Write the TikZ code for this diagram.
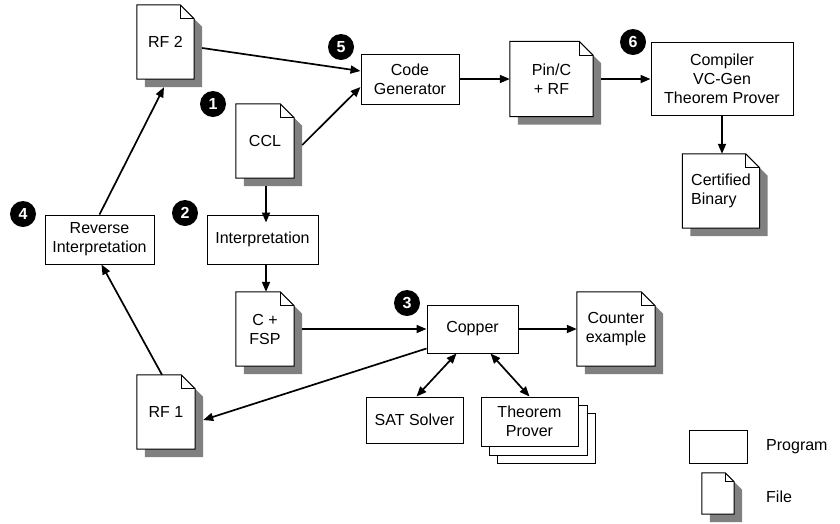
\documentclass[tikz,border=0pt]{standalone}
\usepackage{fontspec}
\setmainfont{Liberation Sans}
\usetikzlibrary{arrows.meta,backgrounds}
\definecolor{shadowgray}{HTML}{808080}
\newcommand\docshape[2][14]{%
  \begin{pgfonlayer}{background}
    \fill[shadowgray] ([shift={(8,8)}]#2.north west) -- ([shift={(8-#1,8)}]#2.north east)
      -- ([shift={(8,8+#1)}]#2.north east) -- ([shift={(8,8)}]#2.south east)
      -- ([shift={(8,8)}]#2.south west) -- cycle;
    \draw[boxline, fill=white] (#2.north west) -- ([shift={(-#1,0)}]#2.north east)
      -- ([shift={(0,#1)}]#2.north east) -- (#2.south east) -- (#2.south west) -- cycle;
    \draw[boxline] ([shift={(-#1,0)}]#2.north east) -- ([shift={(-#1,#1)}]#2.north east)
      -- ([shift={(0,#1)}]#2.north east);
  \end{pgfonlayer}}
\begin{document}
\begin{tikzpicture}[x=1pt,y=-1pt,
  font=\fontsize{16}{19}\selectfont,
  boxline/.style={line width=1pt, line join=miter},
  prog/.style={draw, boxline, fill=white, align=center, inner sep=0pt},
  doc/.style={align=center, inner sep=0pt},
  arr/.style={line width=1.7pt, -{Triangle[length=10pt,width=8pt]}},
  darr/.style={line width=1.7pt, {Triangle[length=10pt,width=8pt]}-{Triangle[length=10pt,width=8pt]}},
  badge/.style={circle, fill=black, text=white, inner sep=0pt, minimum size=26pt, font=\fontsize{16}{19}\selectfont\bfseries}]
\useasboundingbox (0,0) rectangle (840,523);

% files
\node[doc, minimum width=57pt, minimum height=74pt] (rf2) at (165.5,42) {RF 2};
\docshape{rf2}
\node[doc, minimum width=58pt, minimum height=74pt] (ccl) at (265,141) {CCL};
\docshape{ccl}
\node[doc, minimum width=83pt, minimum height=75pt] (pin) at (551.5,79) {Pin/C\\+ RF};
\docshape{pin}
\node[doc, minimum width=77pt, minimum height=74pt, align=left] (cert) at (721,191) {Certified\\Binary};
\docshape{cert}
\node[doc, minimum width=58pt, minimum height=74pt] (rf1) at (166,412) {RF 1};
\docshape{rf1}
\node[doc, minimum width=58pt, minimum height=74pt] (cfsp) at (265,329) {C +\\FSP};
\docshape{cfsp}
\node[doc, minimum width=78pt, minimum height=74pt] (counter) at (616,329) {Counter\\example};
\docshape{counter}

% programs
\node[prog, minimum width=111pt, minimum height=49pt] (interp) at (262.5,239.5) {Interpretation};
\node[prog, minimum width=98pt, minimum height=50pt] (codegen) at (410,79) {Code\\Generator};
\node[prog, minimum width=142pt, minimum height=73pt] (compiler) at (722,79) {Compiler\\VC-Gen\\Theorem Prover};
\node[prog, minimum width=109pt, minimum height=49pt] (revint) at (99.5,239.5) {Reverse\\Interpretation};
\node[prog, minimum width=91pt, minimum height=48pt] (copper) at (472.5,329) {Copper};
\node[prog, minimum width=97pt, minimum height=46pt] (sat) at (414.5,420) {SAT Solver};
\node[prog, minimum width=97pt, minimum height=49pt] (thm) at (529.5,421.5) {Theorem\\Prover};
\begin{pgfonlayer}{background}
  \draw[boxline, fill=white] ([shift={(17,17)}]thm.north west) rectangle ([shift={(17,17)}]thm.south east);
  \draw[boxline, fill=white] ([shift={(8.5,8.5)}]thm.north west) rectangle ([shift={(8.5,8.5)}]thm.south east);
\end{pgfonlayer}

% badges
\node[badge] (b1) at (213,104) {1};
\node[badge] (b2) at (185,213) {2};
\node[badge] (b3) at (407,303) {3};
\node[badge] (b4) at (23,214) {4};
\node[badge] (b5) at (341,47) {5};
\node[badge] (b6) at (633,42) {6};

% connectors
\draw[arr] ([shift={(8,6)}]rf2.east) -- ([shift={(0,-8)}]codegen.west);
\draw[arr] ([shift={(8,4)}]ccl.east) -- ([shift={(0,8)}]codegen.west);
\draw[arr] (codegen.east) -- (codegen.east -| pin.west);
\draw[arr] ([shift={(8,0)}]pin.east) -- (pin.east -| compiler.west);
\draw[arr] (compiler.south) -- (compiler.south |- cert.north);
\draw[arr] ([shift={(1,8)}]ccl.south) -- ([shift={(1,8)}]ccl.south |- interp.north);
\draw[arr] ([shift={(1,0)}]cfsp.north |- interp.south) -- ([shift={(1,0)}]cfsp.north);
\draw[arr] ([shift={(8,0)}]cfsp.east) -- (cfsp.east -| copper.west);
\draw[arr] (copper.east) -- (copper.east -| counter.west);
\draw[arr] ([shift={(0,-5)}]copper.south west) -- ([shift={(8,8)}]rf1.east);
\draw[darr] ([shift={(-16,0)}]copper.south) -- ([shift={(2,0)}]sat.north);
\draw[darr] ([shift={(18,0)}]copper.south) -- (thm.north);
\draw[arr] ([shift={(-4,0)}]rf1.north) -- ([shift={(2,0)}]revint.south);
\draw[arr] (revint.north) -- ([shift={(-1.5,8)}]rf2.south);

% legend
\node[prog, minimum width=58pt, minimum height=33pt] (legprog) at (718,446.5) {};
\node[doc, minimum width=32pt, minimum height=41pt] (legfile) at (718,493.5) {};
\docshape[9]{legfile}
\node[anchor=west, inner sep=0pt] (legprogtxt) at (766,447) {Program};
\node[anchor=west, inner sep=0pt] (legfiletxt) at (766,497) {File};
\end{tikzpicture}
\end{document}
